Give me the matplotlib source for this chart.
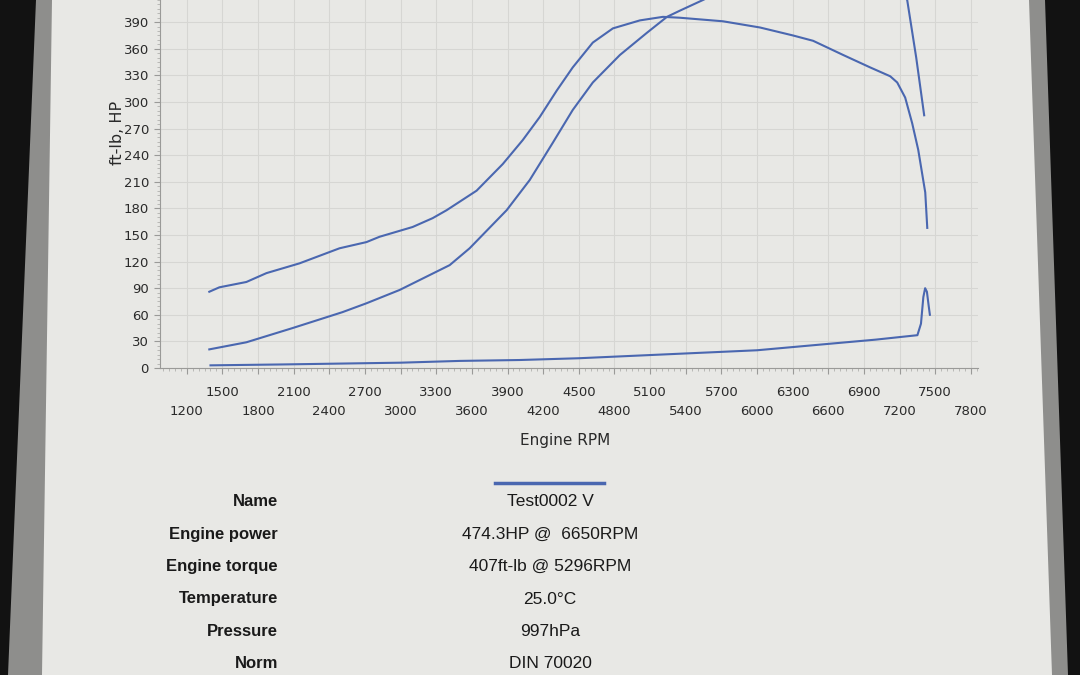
import matplotlib
matplotlib.use("Agg")
import matplotlib.pyplot as plt
from matplotlib.patches import Polygon
from matplotlib.ticker import MultipleLocator

# torque curve (ft-lb)
torque_rpm = [1390, 1475, 1702, 1871, 2149, 2486, 2713, 2823, 3101, 3270, 3388, 3640,
              3860, 4028, 4171, 4315, 4449, 4618, 4787, 5014, 5208, 5351, 5713, 6025,
              6303, 6472, 6725, 6952, 7121, 7180, 7247, 7306, 7357, 7416, 7433]
torque_val = [86, 91, 97, 107, 118, 135, 142, 148, 159, 169, 178, 200,
              230, 257, 283, 313, 339, 367, 383, 392, 396, 395, 391, 384,
              375, 369, 353, 339, 329, 322, 305, 276, 246, 198, 158]

# power curve (HP), goes above the top of the printed area
power_rpm = [1390, 1702, 2090, 2511, 2713, 2992, 3413, 3581, 3893, 4087, 4281, 4449,
             4618, 4846, 5073, 5242, 5351, 5545, 5800, 6100, 6400, 6650, 6900, 7100,
             7264, 7340, 7407]
power_val = [21, 29, 45, 63, 73, 88, 116, 135, 178, 212, 254, 291,
             322, 353, 378, 396, 403, 415, 432, 452, 466, 474, 465, 443,
             415, 350, 285]

# bottom trace
loss_rpm = [1400, 2000, 2500, 3000, 3500, 4000, 4500, 5000, 5500, 6000, 6500, 7000,
            7350, 7380, 7400, 7415, 7430, 7445, 7455]
loss_val = [3, 4, 5, 6, 8, 9, 11, 14, 17, 20, 26, 32, 37, 50, 80, 90, 86, 70, 60]

x_ticks = list(range(1200, 7801, 300))
y_ticks = list(range(0, 391, 30))

info_labels = ["Name", "Engine power", "Engine torque", "Temperature", "Pressure", "Norm"]
info_values = ["Test0002 V", "474.3HP @  6650RPM", "407ft-lb @ 5296RPM", "25.0\u00b0C",
               "997hPa", "DIN 70020"]

W, H = 1080, 675
blue = "#4a67b0"

fig = plt.figure(figsize=(10.8, 6.75), dpi=100)
fig.patch.set_facecolor("#121212")

def px(pts):
    return [(x / W, 1 - y / H) for x, y in pts]

# laminate edge and paper
fig.patches.append(Polygon(px([(36, 0), (1045, 0), (1068, 675), (8, 675)]),
                           closed=True, transform=fig.transFigure,
                           facecolor="#8e8e8c", edgecolor="none", zorder=-2))
fig.patches.append(Polygon(px([(52, 0), (1029, 0), (1052, 675), (42, 675)]),
                           closed=True, transform=fig.transFigure,
                           facecolor="#e8e8e5", edgecolor="none", zorder=-1))

ax = fig.add_axes([160 / W, 1 - 368 / H, (978 - 160) / W, 368 / H])
ax.set_facecolor("none")

ax.plot(torque_rpm, torque_val, color=blue, lw=1.5)
ax.plot(power_rpm, power_val, color=blue, lw=1.5)
ax.plot(loss_rpm, loss_val, color=blue, lw=1.5)

ax.set_xlim(975, 7860)
ax.set_ylim(0, 415)

ax.set_xticks(x_ticks)
ax.set_xticklabels([("\n" if i % 2 == 0 else "") + str(t) for i, t in enumerate(x_ticks)])
ax.set_yticks(y_ticks)
ax.xaxis.set_minor_locator(MultipleLocator(50))
ax.yaxis.set_minor_locator(MultipleLocator(5))

ax.grid(True, which="major", color="#d6d6d3", lw=0.8)
for s in ["top", "right"]:
    ax.spines[s].set_visible(False)
for s in ["left", "bottom"]:
    ax.spines[s].set_color("#9a9a98")
ax.tick_params(which="major", length=4, color="#9a9a98", labelsize=9.5,
               labelcolor="#2a2a2a")
ax.tick_params(which="minor", length=2.5, color="#b0b0ae")
ax.tick_params(axis="x", which="major", pad=9)
ax.tick_params(axis="y", which="major", pad=4)
for lab in ax.get_xticklabels():
    lab.set_linespacing(1.6)

ax.set_xlabel("Engine RPM", fontsize=11, color="#2a2a2a")
ax.xaxis.set_label_coords((565 - 160) / 818, -(440 - 368) / 368)
ax.xaxis.label.set_va("center")
ax.set_ylabel("ft-lb, HP", fontsize=11.5, color="#2a2a2a")
ax.yaxis.set_label_coords((118 - 160) / 818, (368 - 133) / 368)
ax.yaxis.label.set_va("center")

# legend line
fig.add_artist(plt.Line2D([495 / W, 604 / W], [1 - 483 / H, 1 - 483 / H],
                          color=blue, lw=2.5))

rows_y = [501, 534, 566, 599, 631, 663]
for lab, val, y in zip(info_labels, info_values, rows_y):
    fig.text(278 / W, 1 - y / H, lab, ha="right", va="center", fontsize=12,
             fontweight="bold", family="Liberation Sans", color="#1a1a1a")
    fig.text(550 / W, 1 - y / H, val, ha="center", va="center", fontsize=12.5,
             family="Liberation Sans", color="#1a1a1a")

fig.savefig("out.png", dpi=100, facecolor=fig.get_facecolor())
